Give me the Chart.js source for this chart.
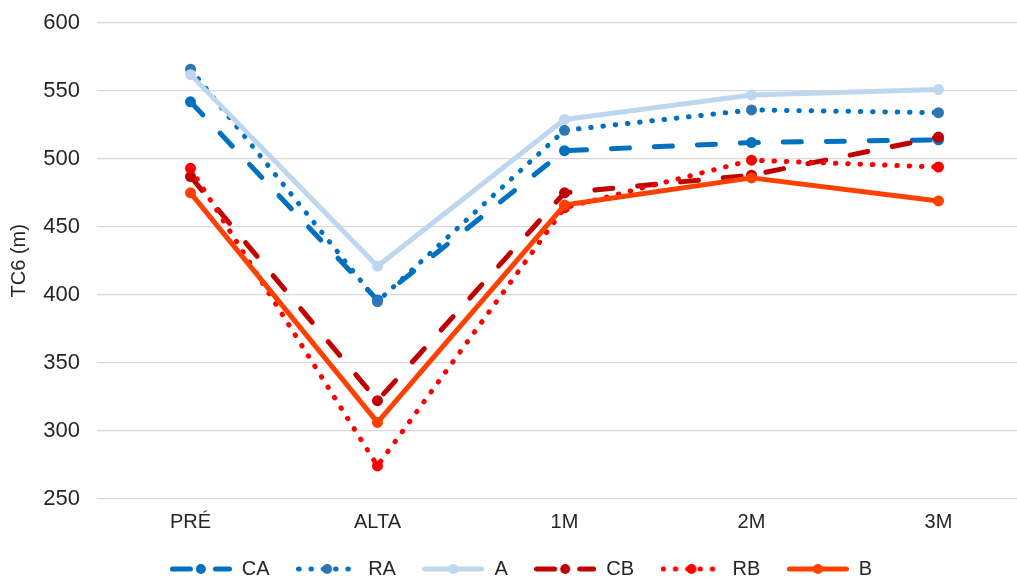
<!DOCTYPE html>
<html lang="pt">
<head>
<meta charset="UTF-8">
<title>TC6 (m)</title>
<script src="https://cdn.jsdelivr.net/npm/chart.js"></script>
<style>
  html, body { margin: 0; padding: 0; background: #fff; overflow: hidden; }
  canvas { display: block; }
</style>
</head>
<body>
<canvas id="tc6Chart" width="1040" height="589"></canvas>
<script>
// momentos de avaliação e valores médios do TC6 (m)
const momentos = ['PRÉ', 'ALTA', '1M', '2M', '3M'];
const ticksY = [250, 300, 350, 400, 450, 500, 550, 600];

const grupos = ['CA', 'RA', 'A', 'CB', 'RB', 'B'];
const valoresCA = [542, 396, 506, 512, 514];
const valoresRA = [566, 395, 521, 536, 534];
const valoresA  = [562, 421, 529, 547, 551];
const valoresCB = [487, 322, 475, 488, 516];
const valoresRB = [493, 274, 464, 499, 494];
const valoresB  = [475, 306, 466, 486, 469];

const tracejado = [18, 25];
const pontilhado = [0.5, 11.8];

const estilos = {
  CA: { linha: '#0070C0', ponto: '#0070C0', dash: tracejado },
  RA: { linha: '#0070C0', ponto: '#2E75B6', dash: pontilhado },
  A:  { linha: '#BDD7EE', ponto: '#BDD7EE', dash: [] },
  CB: { linha: '#C00000', ponto: '#C00000', dash: tracejado },
  RB: { linha: '#FF0000', ponto: '#FF0000', dash: pontilhado },
  B:  { linha: '#FF4000', ponto: '#FF4000', dash: [] }
};

const series = [valoresCA, valoresRA, valoresA, valoresCB, valoresRB, valoresB];
const corTexto = '#262626';
const corGrade = '#D9D9D9';
const fonte = 'Liberation Sans, Arial, sans-serif';

// amostra da legenda: traço com o marcador no meio
function amostraLegenda(est) {
  const c = document.createElement('canvas');
  c.width = 62;
  c.height = 14;
  const g = c.getContext('2d');
  g.strokeStyle = est.linha;
  g.lineWidth = 5;
  g.lineCap = 'round';
  g.setLineDash(est.dash);
  g.beginPath();
  g.moveTo(2.5, 7);
  g.lineTo(59.5, 7);
  g.stroke();
  g.setLineDash([]);
  g.fillStyle = est.ponto;
  g.beginPath();
  g.arc(31, 7, 5, 0, Math.PI * 2);
  g.fill();
  return c;
}

const datasets = grupos.map((nome, i) => {
  const est = estilos[nome];
  return {
    label: nome,
    data: series[i],
    borderColor: est.linha,
    backgroundColor: est.ponto,
    pointBackgroundColor: est.ponto,
    pointBorderWidth: 0,
    pointRadius: 5.5,
    borderWidth: 5,
    borderDash: est.dash,
    borderCapStyle: 'round',
    borderJoinStyle: 'round',
    tension: 0,
    fill: false,
    order: grupos.length - i
  };
});

const ctx = document.getElementById('tc6Chart').getContext('2d');
new Chart(ctx, {
  type: 'line',
  data: { labels: momentos, datasets: datasets },
  options: {
    responsive: false,
    animation: false,
    devicePixelRatio: 1,
    layout: { padding: { top: 23, right: 8, bottom: 0, left: 10 } },
    plugins: {
      tooltip: { enabled: false },
      legend: {
        position: 'bottom',
        labels: {
          usePointStyle: true,
          pointStyleWidth: 62,
          padding: 26.5,
          color: corTexto,
          font: { family: fonte, size: 20 },
          sort: (a, b) => a.datasetIndex - b.datasetIndex,
          generateLabels: (chart) => {
            const itens = Chart.defaults.plugins.legend.labels.generateLabels(chart);
            itens.forEach(it => {
              it.pointStyle = amostraLegenda(estilos[grupos[it.datasetIndex]]);
            });
            return itens;
          }
        }
      }
    },
    scales: {
      x: {
        offset: true,
        grid: { display: false, drawTicks: false },
        border: { display: false },
        ticks: { color: corTexto, font: { family: fonte, size: 20 }, padding: 12 },
        afterFit: (s) => { s.height = 34; }
      },
      y: {
        min: ticksY[0],
        max: ticksY[ticksY.length - 1],
        afterBuildTicks: (s) => { s.ticks = ticksY.map(v => ({ value: v })); },
        grid: { color: corGrade, lineWidth: 1.3, drawTicks: false },
        border: { display: false },
        ticks: { color: corTexto, font: { family: fonte, size: 22 }, padding: 17 },
        title: {
          display: true,
          text: 'TC6 (m)',
          color: corTexto,
          font: { family: fonte, size: 20 },
          padding: { top: -3, bottom: 4 }
        },
        afterFit: (s) => {
          s.width = 87;
          s.paddingTop = 0;
          s.paddingBottom = 0;
        }
      }
    }
  }
});
</script>
</body>
</html>
